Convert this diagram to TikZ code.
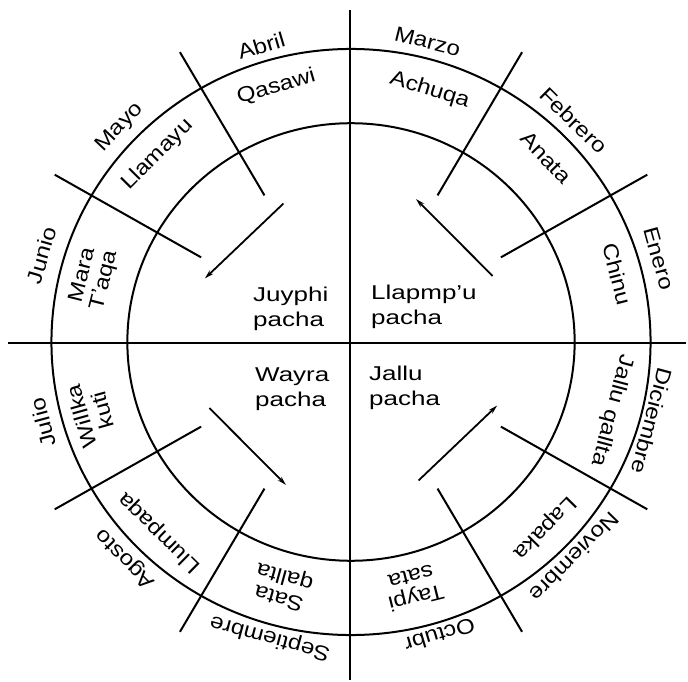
\documentclass[tikz,border=0pt]{standalone}
\usepackage{fontspec}
\setmainfont{Liberation Sans}
\usetikzlibrary{arrows.meta}
\newcommand{\sxa}[1]{\scalebox{1.15}[1]{#1}}
\newcommand{\sxb}[1]{\scalebox{1.3}[1]{#1}}
\begin{document}
\begin{tikzpicture}[x=1pt,y=1pt,
  ring/.style={line width=2pt},
  axisline/.style={line width=1.3pt},
  spoke/.style={line width=2pt},
  cyclearrow/.style={line width=1.8pt,-{Stealth[length=9pt,width=5pt]}},
  month/.style={font=\fontsize{21}{24}\selectfont,inner sep=0pt},
  aymara/.style={font=\fontsize{21}{22}\selectfont,inner sep=0pt,align=center},
  season/.style={font=\fontsize{20}{25}\selectfont,inner sep=0pt,align=left,anchor=west}]
\useasboundingbox (0,0) rectangle (688,681);
% axes
\coordinate (axl) at (8,338);
\coordinate (axr) at (686,338);
\coordinate (axt) at (350,671);
\coordinate (axb) at (350,1);
\draw[axisline] (axl) -- (axr);
\draw[axisline] (axt) -- (axb);
\begin{scope}[shift={(351,339)},xscale=1.012,yscale=0.99]
  \draw[ring] (0,0) circle (296);
  \draw[ring] (0,0) circle (221);
  \foreach \a in {30,60,120,150,210,240,300,330}{
    \coordinate (s\a i) at (\a:171);
    \coordinate (s\a o) at (\a:338);
    \draw[spoke] (s\a i) -- (s\a o);
  }
  \foreach \k in {0,90,180,270}{
    \coordinate (a\k s) at ({25.5+\k}:155);
    \coordinate (a\k e) at ({66+\k}:158);
    \draw[cyclearrow] (a\k s) -- (a\k e);
  }
  % months
  \foreach \ang/\r/\txt/\nm in {15.5/316/Enero/ene,45.5/314/Febrero/feb,76/313/Marzo/mar,106.5/312/Abril/abr,136.5/315/Mayo/may,164/318/Junio/jun,195/315/Julio/jul,224.5/312/Agosto/ago,255/309/Septiembre/sep,286.5/309/Octubr/oct,315.5/310/Noviembre/nov,345/308/Diciembre/dic}{
    \node[month,rotate=\ang-90] (m\nm) at (\ang:\r) {\sxa{\txt}};
  }
  % aymara month names
  \node[aymara,rotate=14.6-90] (chinu) at (14.6:272) {\sxa{Chinu}};
  \node[aymara,rotate=44-90] (anata) at (44:268) {\sxa{Anata}};
  \node[aymara,rotate=73-90] (achuqa) at (73:266) {\sxa{Achuqa}};
  \node[aymara,rotate=106-90] (qasawi) at (106:268) {\sxa{Qasawi}};
  \node[aymara,rotate=135.3-90] (llamayu) at (135.3:269) {\sxa{Llamayu}};
  \node[aymara,rotate=165.7-90] (marataqa) at (165.7:262) {\sxa{Mara}\\\sxa{T'aqa}};
  \node[aymara,rotate=195.7-90] (willka) at (195.7:266) {\sxa{Willka}\\\sxa{kuti}};
  \node[aymara,rotate=225.5-90] (llumpaqa) at (225.5:270) {\sxa{Llumpaqa}};
  \node[aymara,rotate=254.6-90] (sata) at (254.6:256) {\sxa{Sata}\\\sxa{qallta}};
  \node[aymara,rotate=284-90] (taypi) at (284:256) {\sxa{Taypi}\\\sxa{sata}};
  \node[aymara,rotate=315.5-90] (lapaka) at (315.5:268) {\sxa{Lapaka}};
  \node[aymara,rotate=345-90] (jallu) at (345:267) {\sxa{Jallu qallta}};
\end{scope}
% seasons
\node[season] (juyphi) at (253,372) {\sxb{Juyphi}\\\sxb{pacha}};
\node[season] (llapmpu) at (371,374) {\sxb{Llapmp'u}\\\sxb{pacha}};
\node[season] (wayra) at (255,292) {\sxb{Wayra}\\\sxb{pacha}};
\node[season] (jallup) at (369,293) {\sxb{Jallu}\\\sxb{pacha}};
\end{tikzpicture}
\end{document}
